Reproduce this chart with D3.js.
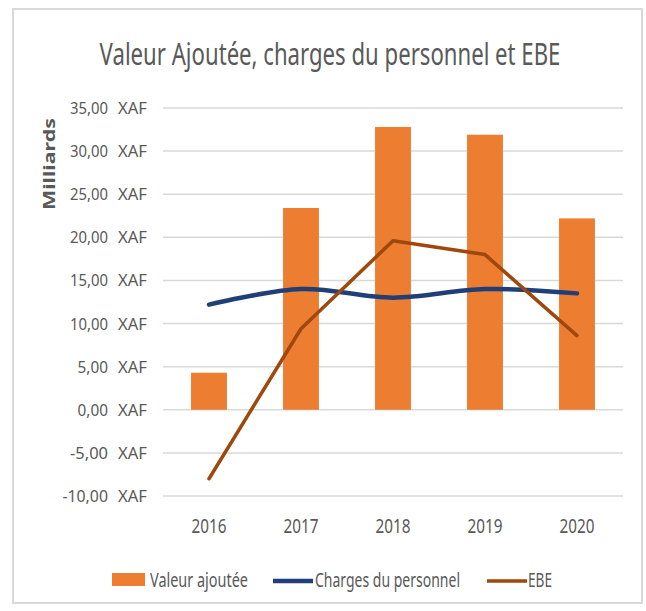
<!DOCTYPE html>
<meta charset="utf-8">
<style>
  body { margin: 0; background: #fff; }
  text { font-family: "Noto Sans", "Open Sans", sans-serif; fill: #595959; }
</style>
<body>
<script src="https://cdn.jsdelivr.net/npm/d3@7/dist/d3.min.js"></script>
<script>

    var width = 646,
        height = 611;

    // data (milliards XAF)
    var years = ["2016", "2017", "2018", "2019", "2020"];
    var valeurAjoutee = [4.3, 23.4, 32.8, 31.9, 22.2];
    var chargesPersonnel = [12.2, 14.0, 13.0, 14.0, 13.5];
    var ebe = [-8.0, 9.4, 19.6, 18.0, 8.6];
    var yTicks = [-10, -5, 0, 5, 10, 15, 20, 25, 30, 35];

    var svg = d3.select("body").append("svg")
            .attr("width", width)
            .attr("height", height);

    // outer frame
    svg.append("rect")
            .attr("x", 13).attr("y", 9)
            .attr("width", 629).attr("height", 594)
            .attr("fill", "#fff")
            .attr("stroke", "#d9d9d9")
            .attr("stroke-width", 2);

    var x = d3.scaleBand()
            .domain(years)
            .range([163, 623])
            .paddingInner(0.61)
            .paddingOuter(0.305);

    var y = d3.scaleLinear()
            .domain([-10, 35])
            .range([496, 108]);

    var fmt = function(v) { return d3.format(".2f")(v).replace(".", ",").replace("−", "-"); };

    // squeeze a text horizontally to a given width (the original font is narrow)
    function narrow(sel, w) {
        sel.each(function() {
            var t = d3.select(this);
            var nat = this.getComputedTextLength();
            var px = +t.attr("x") || 0, py = +t.attr("y") || 0;
            var s = w / nat;
            t.attr("transform", "translate(" + px + "," + py + ") scale(" + s + ",1)")
                .attr("x", 0).attr("y", 0);
        });
    }

    // gridlines
    svg.append("g").selectAll("line")
            .data(yTicks)
            .enter().append("line")
            .attr("x1", 163).attr("x2", 623)
            .attr("y1", function(d) { return y(d); })
            .attr("y2", function(d) { return y(d); })
            .attr("stroke", "#d9d9d9")
            .attr("stroke-width", 1.5);

    // y labels: number + currency
    var yl = svg.append("g").selectAll("g")
            .data(yTicks)
            .enter().append("g")
            .attr("transform", function(d) { return "translate(0," + (y(d) + 6) + ")"; });
    yl.append("text")
            .attr("x", 108)
            .attr("text-anchor", "end")
            .attr("font-size", 17)
            .attr("textLength", function(d) { return fmt(d).length * 7.6; })
            .attr("lengthAdjust", "spacingAndGlyphs")
            .text(fmt);
    yl.append("text")
            .attr("x", 118)
            .attr("font-size", 17)
            .attr("textLength", 29)
            .attr("lengthAdjust", "spacingAndGlyphs")
            .text("XAF");

    svg.append("text")
            .attr("transform", "translate(55,164) rotate(-90)")
            .attr("text-anchor", "middle")
            .attr("font-size", 16)
            .attr("font-weight", "bold")
            .attr("textLength", 92)
            .attr("lengthAdjust", "spacingAndGlyphs")
            .text("Milliards");

    // x labels
    svg.append("g").selectAll("text")
            .data(years)
            .enter().append("text")
            .attr("x", function(d) { return x(d) + x.bandwidth() / 2; })
            .attr("y", 533)
            .attr("text-anchor", "middle")
            .attr("font-size", 19)
            .attr("textLength", 35)
            .attr("lengthAdjust", "spacingAndGlyphs")
            .text(function(d) { return d; });

    // bars
    svg.append("g").selectAll("rect")
            .data(valeurAjoutee)
            .enter().append("rect")
            .attr("x", function(d, i) { return x(years[i]); })
            .attr("y", function(d) { return y(Math.max(0, d)); })
            .attr("width", x.bandwidth())
            .attr("height", function(d) { return Math.abs(y(d) - y(0)); })
            .attr("fill", "#ed7d31");

    var cx = function(d, i) { return x(years[i]) + x.bandwidth() / 2; };

    var lineSmooth = d3.line()
            .x(cx)
            .y(function(d) { return y(d); })
            .curve(d3.curveCatmullRom.alpha(0.5));

    var lineStraight = d3.line()
            .x(cx)
            .y(function(d) { return y(d); });

    svg.append("path")
            .attr("d", lineSmooth(chargesPersonnel))
            .attr("fill", "none")
            .attr("stroke", "#203f78")
            .attr("stroke-width", 4.5)
            .attr("stroke-linecap", "round");

    svg.append("path")
            .attr("d", lineStraight(ebe))
            .attr("fill", "none")
            .attr("stroke", "#9e480e")
            .attr("stroke-width", 3.5)
            .attr("stroke-linecap", "round")
            .attr("stroke-linejoin", "round");

    // title
    svg.append("text")
            .attr("x", 330)
            .attr("y", 65)
            .attr("text-anchor", "middle")
            .attr("font-size", 30)
            .attr("fill", "#606060")
            .text("Valeur Ajoutée, charges du personnel et EBE")
            .call(narrow, 461);

    // legend
    var lg = svg.append("g");
    lg.append("rect")
            .attr("x", 112).attr("y", 573)
            .attr("width", 33).attr("height", 13)
            .attr("fill", "#ed7d31");
    lg.append("text")
            .attr("x", 150).attr("y", 587)
            .attr("font-size", 19)
            .attr("textLength", 98)
            .attr("lengthAdjust", "spacingAndGlyphs")
            .text("Valeur ajoutée");
    lg.append("line")
            .attr("x1", 273).attr("x2", 313)
            .attr("y1", 581).attr("y2", 581)
            .attr("stroke", "#203f78").attr("stroke-width", 4.5);
    lg.append("text")
            .attr("x", 315).attr("y", 587)
            .attr("font-size", 19)
            .attr("textLength", 145)
            .attr("lengthAdjust", "spacingAndGlyphs")
            .text("Charges du personnel");
    lg.append("line")
            .attr("x1", 487).attr("x2", 527)
            .attr("y1", 581).attr("y2", 581)
            .attr("stroke", "#9e480e").attr("stroke-width", 3.5);
    lg.append("text")
            .attr("x", 528).attr("y", 587)
            .attr("font-size", 19)
            .attr("textLength", 24)
            .attr("lengthAdjust", "spacingAndGlyphs")
            .text("EBE");

</script>
